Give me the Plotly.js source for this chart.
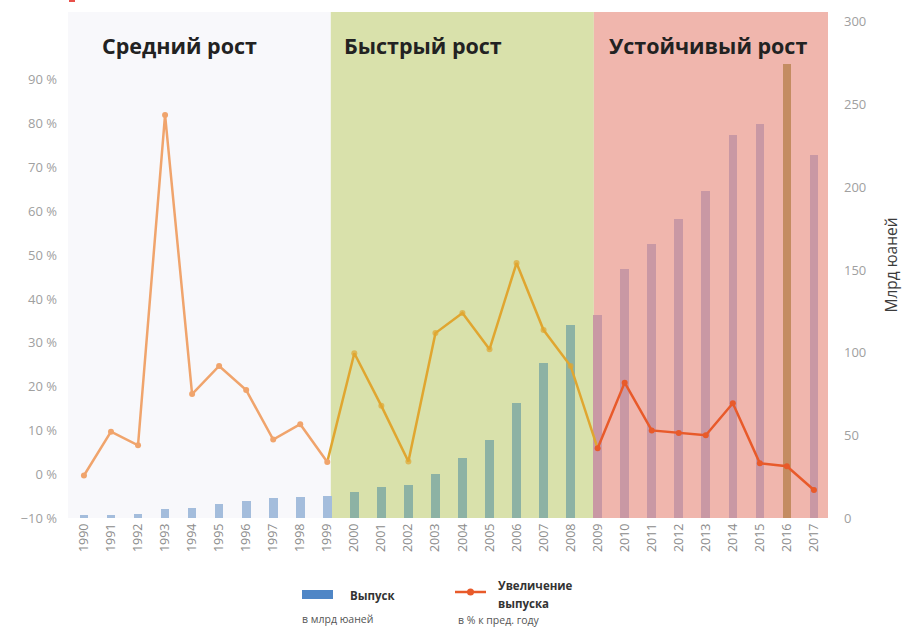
<!DOCTYPE html>
<html>
<head>
<meta charset="utf-8">
<script src="https://cdn.plot.ly/plotly-3.0.1.min.js"></script>
<style>
  html, body { margin: 0; padding: 0; background: #ffffff; }
  #chart { width: 917px; height: 629px; }
</style>
</head>
<body>
<div id="chart"></div>
<script>
// ---- data ----
const years = [1990,1991,1992,1993,1994,1995,1996,1997,1998,1999,
               2000,2001,2002,2003,2004,2005,2006,2007,2008,2009,
               2010,2011,2012,2013,2014,2015,2016,2017];
// output, bn yuan (right axis)
const outputBn = [2,2,2.5,5.5,6,8.5,10,12,13,13.5,
                  16,19,20,26.5,36,47,69.5,94,117,123,
                  150.5,166,181,198,231.5,238,274.5,219.5];
// growth of output, % vs previous year (left axis)
const growthPct = [-0.3,9.7,6.6,82,18.3,24.7,19.2,7.9,11.4,2.8,
                   27.6,15.6,2.9,32.2,36.8,28.5,48.2,32.9,24.7,5.9,
                   20.9,10,9.4,8.9,16.2,2.5,1.8,-3.6];
const pctTicks = [-10,0,10,20,30,40,50,60,70,80,90];
const periodNames = ['Средний рост','Быстрый рост','Устойчивый рост'];
const legendNames = ['Выпуск','Увеличение','выпуска'];
const legendNotes = ['в млрд юаней','в % к пред. году'];
const rightTitle = 'Млрд юаней';

// ---- styling helpers ----
const b1 = 1999.13, b2 = 2008.86, xmin = 1989.41, xmax = 2017.52;
function period(y){ return y <= 1999 ? 0 : (y <= 2008 ? 1 : 2); }
const barColors = years.map(y => y === 2016 ? '#c48c62' :
  ['#a4bddc','#8db2a4','#c998a4'][period(y)]);
const lineColors = ['#f0a46c','#e0a630','#e85a2a'];

function seg(lo, hi){
  const xs=[], ys=[];
  years.forEach((y,i)=>{ if (y>=lo && y<=hi){ xs.push(y); ys.push(growthPct[i]); } });
  return {xs, ys};
}
const s0 = seg(1990,1999), s1 = seg(1999,2009), s2 = seg(2009,2017);
const traces = [
  { type:'bar', x: years, y: outputBn, yaxis:'y', width:0.32,
    marker:{color: barColors, line:{width:0}}, showlegend:false },
  { type:'scatter', mode:'lines+markers', x:s1.xs, y:s1.ys, yaxis:'y2',
    line:{color:lineColors[1], width:2.5},
    marker:{color:lineColors[1], size: s1.xs.map(y => (y===1999||y===2009)?0:6), line:{width:0}},
    showlegend:false },
  { type:'scatter', mode:'lines+markers', x:s0.xs, y:s0.ys, yaxis:'y2',
    line:{color:lineColors[0], width:2.5}, marker:{color:lineColors[0], size:6, line:{width:0}}, showlegend:false },
  { type:'scatter', mode:'lines+markers', x:s2.xs, y:s2.ys, yaxis:'y2',
    line:{color:lineColors[2], width:2.5}, marker:{color:lineColors[2], size:6, line:{width:0}}, showlegend:false }
];

const H = 506; // plot height px
function py(px){ return (518 - px) / H; }
function pxX(px){ return (px - 68) / 760; }

function ann(x, y, text, size, color, xref){
  return {xref: xref || 'paper', yref:'paper', x:x, y:y, xanchor: xref ? 'center' : 'left',
          yanchor:'middle', text:text, showarrow:false, font:{size:size, color:color}};
}

const layout = {
  width: 917, height: 629,
  margin: {l:68, r:89, t:12, b:111},
  paper_bgcolor:'#ffffff', plot_bgcolor:'#ffffff',
  font: {family:'"Open Sans", "DejaVu Sans", sans-serif', color:'#8c8c8c'},
  bargap: 0,
  xaxis: {
    range:[xmin, xmax], tickmode:'array', tickvals: years, ticktext: years.map(String),
    tickangle:-90, showgrid:false, zeroline:false, showline:false, ticks:'',
    tickfont:{size:12.5, color:'#8c8c8c'}, ticklabelstandoff:2
  },
  yaxis: {
    side:'right', range:[0,306], dtick:50, showgrid:false, zeroline:false, showline:false,
    ticks:'', tickfont:{size:13, color:'#a0a0a0'}, ticklabelstandoff:15,
    title:{text: rightTitle, font:{size:15.5, color:'#3c3c3c'}, standoff:20}
  },
  yaxis2: {
    overlaying:'y', side:'left', range:[-10,105.5], tickmode:'array', tickvals: pctTicks,
    ticktext: pctTicks.map(v => (v < 0 ? '\u2212' + Math.abs(v) : v) + ' %'),
    showgrid:false, zeroline:false, showline:false, ticks:'',
    tickfont:{size:13, color:'#a0a0a0'}, ticklabelstandoff:10
  },
  shapes: [
    {type:'rect', xref:'x', yref:'paper', x0:xmin, x1:b1, y0:0, y1:1, layer:'below', line:{width:0}, fillcolor:'#f8f8fb'},
    {type:'rect', xref:'x', yref:'paper', x0:b1, x1:b2, y0:0, y1:1, layer:'below', line:{width:0}, fillcolor:'#d9e1ab'},
    {type:'rect', xref:'x', yref:'paper', x0:b2, x1:xmax, y0:0, y1:1, layer:'below', line:{width:0}, fillcolor:'#f0b6ad'},
    {type:'rect', xref:'paper', yref:'paper', x0:pxX(69), x1:pxX(75), y0:py(2), y1:py(-2), line:{width:0}, fillcolor:'#e8504a'},
    // legend symbols
    {type:'rect', xref:'paper', yref:'paper', x0:pxX(302), x1:pxX(333), y0:py(599), y1:py(590), line:{width:0}, fillcolor:'#4f86c6'},
    {type:'line', xref:'paper', yref:'paper', x0:pxX(455), x1:pxX(486), y0:py(592), y1:py(592), line:{width:2.5, color:'#e85a2a'}},
    {type:'circle', xref:'paper', yref:'paper', x0:pxX(467), x1:pxX(474), y0:py(595.5), y1:py(588.5), line:{width:0}, fillcolor:'#e85a2a'}
  ],
  annotations: [
    ann(1993.55, py(46), '<b>'+periodNames[0]+'</b>', 21.5, '#222222', 'x'),
    ann(2002.54, py(46), '<b>'+periodNames[1]+'</b>', 21.5, '#222222', 'x'),
    ann(2013.08, py(46), '<b>'+periodNames[2]+'</b>', 21.5, '#222222', 'x'),
    ann(pxX(348), py(595), '<b>'+legendNames[0]+'</b>', 11.5, '#333333'),
    ann(pxX(300), py(619), legendNotes[0], 10.5, '#555555'),
    ann(pxX(496), py(585), '<b>'+legendNames[1]+'</b>', 11.5, '#333333'),
    ann(pxX(496), py(603), '<b>'+legendNames[2]+'</b>', 11.5, '#333333'),
    ann(pxX(456), py(620), legendNotes[1], 10.5, '#555555')
  ],
  showlegend:false
};

Plotly.newPlot('chart', traces, layout, {displayModeBar:false, staticPlot:true});
</script>
</body>
</html>
